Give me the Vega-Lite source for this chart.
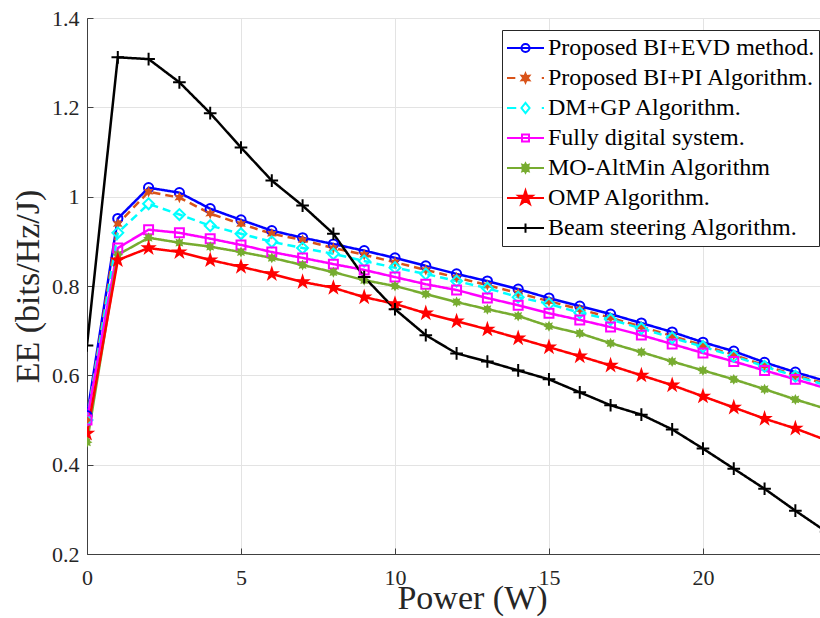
{
  "$schema": "https://vega.github.io/schema/vega-lite/v6.json",
  "width": 733,
  "height": 536,
  "autosize": {"type": "none"},
  "padding": {"left": 87, "top": 18, "right": 0, "bottom": 64},
  "background": "white",
  "config": {
    "font": "Liberation Serif",
    "view": {"stroke": "#404040", "strokeWidth": 1},
    "axis": {
      "labelFont": "Liberation Serif",
      "titleFont": "Liberation Serif",
      "labelFontSize": 22,
      "titleFontSize": 34,
      "titleFontWeight": "normal",
      "labelColor": "#262626",
      "titleColor": "#262626",
      "gridColor": "#e3e3e3",
      "gridWidth": 1,
      "domainColor": "#404040",
      "tickColor": "#404040",
      "tickSize": -6,
      "domainWidth": 1
    }
  },
  "data": {"values": [
    {"series":"Proposed BI+EVD method.","power":0,"ee":0.51},
    {"series":"Proposed BI+EVD method.","power":1,"ee":0.951},
    {"series":"Proposed BI+EVD method.","power":2,"ee":1.020},
    {"series":"Proposed BI+EVD method.","power":3,"ee":1.009},
    {"series":"Proposed BI+EVD method.","power":4,"ee":0.973},
    {"series":"Proposed BI+EVD method.","power":5,"ee":0.948},
    {"series":"Proposed BI+EVD method.","power":6,"ee":0.924},
    {"series":"Proposed BI+EVD method.","power":7,"ee":0.908},
    {"series":"Proposed BI+EVD method.","power":8,"ee":0.894},
    {"series":"Proposed BI+EVD method.","power":9,"ee":0.879},
    {"series":"Proposed BI+EVD method.","power":10,"ee":0.863},
    {"series":"Proposed BI+EVD method.","power":11,"ee":0.845},
    {"series":"Proposed BI+EVD method.","power":12,"ee":0.827},
    {"series":"Proposed BI+EVD method.","power":13,"ee":0.811},
    {"series":"Proposed BI+EVD method.","power":14,"ee":0.793},
    {"series":"Proposed BI+EVD method.","power":15,"ee":0.773},
    {"series":"Proposed BI+EVD method.","power":16,"ee":0.755},
    {"series":"Proposed BI+EVD method.","power":17,"ee":0.737},
    {"series":"Proposed BI+EVD method.","power":18,"ee":0.717},
    {"series":"Proposed BI+EVD method.","power":19,"ee":0.697},
    {"series":"Proposed BI+EVD method.","power":20,"ee":0.674},
    {"series":"Proposed BI+EVD method.","power":21,"ee":0.654},
    {"series":"Proposed BI+EVD method.","power":22,"ee":0.629},
    {"series":"Proposed BI+EVD method.","power":23,"ee":0.607},
    {"series":"Proposed BI+EVD method.","power":24,"ee":0.587},
    {"series":"Proposed BI+PI Algorithm.","power":0,"ee":0.50},
    {"series":"Proposed BI+PI Algorithm.","power":1,"ee":0.939},
    {"series":"Proposed BI+PI Algorithm.","power":2,"ee":1.011},
    {"series":"Proposed BI+PI Algorithm.","power":3,"ee":0.998},
    {"series":"Proposed BI+PI Algorithm.","power":4,"ee":0.962},
    {"series":"Proposed BI+PI Algorithm.","power":5,"ee":0.939},
    {"series":"Proposed BI+PI Algorithm.","power":6,"ee":0.917},
    {"series":"Proposed BI+PI Algorithm.","power":7,"ee":0.903},
    {"series":"Proposed BI+PI Algorithm.","power":8,"ee":0.885},
    {"series":"Proposed BI+PI Algorithm.","power":9,"ee":0.870},
    {"series":"Proposed BI+PI Algorithm.","power":10,"ee":0.853},
    {"series":"Proposed BI+PI Algorithm.","power":11,"ee":0.836},
    {"series":"Proposed BI+PI Algorithm.","power":12,"ee":0.819},
    {"series":"Proposed BI+PI Algorithm.","power":13,"ee":0.802},
    {"series":"Proposed BI+PI Algorithm.","power":14,"ee":0.784},
    {"series":"Proposed BI+PI Algorithm.","power":15,"ee":0.766},
    {"series":"Proposed BI+PI Algorithm.","power":16,"ee":0.748},
    {"series":"Proposed BI+PI Algorithm.","power":17,"ee":0.729},
    {"series":"Proposed BI+PI Algorithm.","power":18,"ee":0.709},
    {"series":"Proposed BI+PI Algorithm.","power":19,"ee":0.688},
    {"series":"Proposed BI+PI Algorithm.","power":20,"ee":0.667},
    {"series":"Proposed BI+PI Algorithm.","power":21,"ee":0.646},
    {"series":"Proposed BI+PI Algorithm.","power":22,"ee":0.622},
    {"series":"Proposed BI+PI Algorithm.","power":23,"ee":0.600},
    {"series":"Proposed BI+PI Algorithm.","power":24,"ee":0.581},
    {"series":"DM+GP Algorithm.","power":0,"ee":0.50},
    {"series":"DM+GP Algorithm.","power":1,"ee":0.919},
    {"series":"DM+GP Algorithm.","power":2,"ee":0.984},
    {"series":"DM+GP Algorithm.","power":3,"ee":0.960},
    {"series":"DM+GP Algorithm.","power":4,"ee":0.935},
    {"series":"DM+GP Algorithm.","power":5,"ee":0.917},
    {"series":"DM+GP Algorithm.","power":6,"ee":0.899},
    {"series":"DM+GP Algorithm.","power":7,"ee":0.885},
    {"series":"DM+GP Algorithm.","power":8,"ee":0.872},
    {"series":"DM+GP Algorithm.","power":9,"ee":0.856},
    {"series":"DM+GP Algorithm.","power":10,"ee":0.841},
    {"series":"DM+GP Algorithm.","power":11,"ee":0.827},
    {"series":"DM+GP Algorithm.","power":12,"ee":0.811},
    {"series":"DM+GP Algorithm.","power":13,"ee":0.795},
    {"series":"DM+GP Algorithm.","power":14,"ee":0.775},
    {"series":"DM+GP Algorithm.","power":15,"ee":0.760},
    {"series":"DM+GP Algorithm.","power":16,"ee":0.740},
    {"series":"DM+GP Algorithm.","power":17,"ee":0.725},
    {"series":"DM+GP Algorithm.","power":18,"ee":0.705},
    {"series":"DM+GP Algorithm.","power":19,"ee":0.684},
    {"series":"DM+GP Algorithm.","power":20,"ee":0.664},
    {"series":"DM+GP Algorithm.","power":21,"ee":0.643},
    {"series":"DM+GP Algorithm.","power":22,"ee":0.620},
    {"series":"DM+GP Algorithm.","power":23,"ee":0.598},
    {"series":"DM+GP Algorithm.","power":24,"ee":0.578},
    {"series":"Fully digital system.","power":0,"ee":0.50},
    {"series":"Fully digital system.","power":1,"ee":0.885},
    {"series":"Fully digital system.","power":2,"ee":0.926},
    {"series":"Fully digital system.","power":3,"ee":0.919},
    {"series":"Fully digital system.","power":4,"ee":0.906},
    {"series":"Fully digital system.","power":5,"ee":0.892},
    {"series":"Fully digital system.","power":6,"ee":0.876},
    {"series":"Fully digital system.","power":7,"ee":0.863},
    {"series":"Fully digital system.","power":8,"ee":0.849},
    {"series":"Fully digital system.","power":9,"ee":0.836},
    {"series":"Fully digital system.","power":10,"ee":0.820},
    {"series":"Fully digital system.","power":11,"ee":0.804},
    {"series":"Fully digital system.","power":12,"ee":0.791},
    {"series":"Fully digital system.","power":13,"ee":0.773},
    {"series":"Fully digital system.","power":14,"ee":0.757},
    {"series":"Fully digital system.","power":15,"ee":0.739},
    {"series":"Fully digital system.","power":16,"ee":0.724},
    {"series":"Fully digital system.","power":17,"ee":0.708},
    {"series":"Fully digital system.","power":18,"ee":0.690},
    {"series":"Fully digital system.","power":19,"ee":0.670},
    {"series":"Fully digital system.","power":20,"ee":0.650},
    {"series":"Fully digital system.","power":21,"ee":0.631},
    {"series":"Fully digital system.","power":22,"ee":0.611},
    {"series":"Fully digital system.","power":23,"ee":0.591},
    {"series":"Fully digital system.","power":24,"ee":0.571},
    {"series":"MO-AltMin Algorithm","power":0,"ee":0.45},
    {"series":"MO-AltMin Algorithm","power":1,"ee":0.870},
    {"series":"MO-AltMin Algorithm","power":2,"ee":0.908},
    {"series":"MO-AltMin Algorithm","power":3,"ee":0.897},
    {"series":"MO-AltMin Algorithm","power":4,"ee":0.888},
    {"series":"MO-AltMin Algorithm","power":5,"ee":0.876},
    {"series":"MO-AltMin Algorithm","power":6,"ee":0.863},
    {"series":"MO-AltMin Algorithm","power":7,"ee":0.847},
    {"series":"MO-AltMin Algorithm","power":8,"ee":0.831},
    {"series":"MO-AltMin Algorithm","power":9,"ee":0.813},
    {"series":"MO-AltMin Algorithm","power":10,"ee":0.800},
    {"series":"MO-AltMin Algorithm","power":11,"ee":0.782},
    {"series":"MO-AltMin Algorithm","power":12,"ee":0.764},
    {"series":"MO-AltMin Algorithm","power":13,"ee":0.748},
    {"series":"MO-AltMin Algorithm","power":14,"ee":0.733},
    {"series":"MO-AltMin Algorithm","power":15,"ee":0.710},
    {"series":"MO-AltMin Algorithm","power":16,"ee":0.694},
    {"series":"MO-AltMin Algorithm","power":17,"ee":0.672},
    {"series":"MO-AltMin Algorithm","power":18,"ee":0.652},
    {"series":"MO-AltMin Algorithm","power":19,"ee":0.631},
    {"series":"MO-AltMin Algorithm","power":20,"ee":0.611},
    {"series":"MO-AltMin Algorithm","power":21,"ee":0.591},
    {"series":"MO-AltMin Algorithm","power":22,"ee":0.569},
    {"series":"MO-AltMin Algorithm","power":23,"ee":0.546},
    {"series":"MO-AltMin Algorithm","power":24,"ee":0.525},
    {"series":"OMP Algorithm.","power":0,"ee":0.47},
    {"series":"OMP Algorithm.","power":1,"ee":0.858},
    {"series":"OMP Algorithm.","power":2,"ee":0.885},
    {"series":"OMP Algorithm.","power":3,"ee":0.876},
    {"series":"OMP Algorithm.","power":4,"ee":0.858},
    {"series":"OMP Algorithm.","power":5,"ee":0.843},
    {"series":"OMP Algorithm.","power":6,"ee":0.827},
    {"series":"OMP Algorithm.","power":7,"ee":0.809},
    {"series":"OMP Algorithm.","power":8,"ee":0.796},
    {"series":"OMP Algorithm.","power":9,"ee":0.775},
    {"series":"OMP Algorithm.","power":10,"ee":0.760},
    {"series":"OMP Algorithm.","power":11,"ee":0.739},
    {"series":"OMP Algorithm.","power":12,"ee":0.721},
    {"series":"OMP Algorithm.","power":13,"ee":0.703},
    {"series":"OMP Algorithm.","power":14,"ee":0.683},
    {"series":"OMP Algorithm.","power":15,"ee":0.663},
    {"series":"OMP Algorithm.","power":16,"ee":0.643},
    {"series":"OMP Algorithm.","power":17,"ee":0.622},
    {"series":"OMP Algorithm.","power":18,"ee":0.600},
    {"series":"OMP Algorithm.","power":19,"ee":0.578},
    {"series":"OMP Algorithm.","power":20,"ee":0.553},
    {"series":"OMP Algorithm.","power":21,"ee":0.528},
    {"series":"OMP Algorithm.","power":22,"ee":0.503},
    {"series":"OMP Algorithm.","power":23,"ee":0.481},
    {"series":"OMP Algorithm.","power":24,"ee":0.455},
    {"series":"Beam steering Algorithm.","power":0,"ee":0.667},
    {"series":"Beam steering Algorithm.","power":1,"ee":1.312},
    {"series":"Beam steering Algorithm.","power":2,"ee":1.308},
    {"series":"Beam steering Algorithm.","power":3,"ee":1.256},
    {"series":"Beam steering Algorithm.","power":4,"ee":1.187},
    {"series":"Beam steering Algorithm.","power":5,"ee":1.110},
    {"series":"Beam steering Algorithm.","power":6,"ee":1.036},
    {"series":"Beam steering Algorithm.","power":7,"ee":0.980},
    {"series":"Beam steering Algorithm.","power":8,"ee":0.917},
    {"series":"Beam steering Algorithm.","power":9,"ee":0.820},
    {"series":"Beam steering Algorithm.","power":10,"ee":0.748},
    {"series":"Beam steering Algorithm.","power":11,"ee":0.690},
    {"series":"Beam steering Algorithm.","power":12,"ee":0.649},
    {"series":"Beam steering Algorithm.","power":13,"ee":0.631},
    {"series":"Beam steering Algorithm.","power":14,"ee":0.611},
    {"series":"Beam steering Algorithm.","power":15,"ee":0.591},
    {"series":"Beam steering Algorithm.","power":16,"ee":0.562},
    {"series":"Beam steering Algorithm.","power":17,"ee":0.533},
    {"series":"Beam steering Algorithm.","power":18,"ee":0.512},
    {"series":"Beam steering Algorithm.","power":19,"ee":0.479},
    {"series":"Beam steering Algorithm.","power":20,"ee":0.436},
    {"series":"Beam steering Algorithm.","power":21,"ee":0.391},
    {"series":"Beam steering Algorithm.","power":22,"ee":0.346},
    {"series":"Beam steering Algorithm.","power":23,"ee":0.297},
    {"series":"Beam steering Algorithm.","power":24,"ee":0.250}
  ]},
  "encoding": {
    "x": {
      "field": "power", "type": "quantitative",
      "scale": {"domain": [0, 23.8], "nice": false, "zero": false},
      "axis": {
        "values": [0, 5, 10, 15, 20], "title": "Power (W)", "grid": true,
        "labelPadding": 19, "titleX": 385, "titleY": 54, "titleBaseline": "alphabetic",
        "labelFlush": false
      }
    },
    "y": {
      "field": "ee", "type": "quantitative",
      "scale": {"domain": [0.2, 1.4], "nice": false, "zero": false},
      "axis": {
        "values": [0.2, 0.4, 0.6, 0.8, 1, 1.2, 1.4], "format": ".1~f", "title": "EE (bits/Hz/J)", "grid": true,
        "labelPadding": 14, "titleX": -59, "titleY": 268, "titleBaseline": "middle", "titleAngle": 270,
        "labelFlush": false
      }
    }
  },
  "layer": [
    {
      "mark": {"type": "line", "strokeWidth": 2.5, "clip": true},
      "encoding": {
        "color": {"field": "series", "type": "nominal", "legend": null,
          "scale": {"domain": ["Proposed BI+EVD method.", "Proposed BI+PI Algorithm.", "DM+GP Algorithm.", "Fully digital system.", "MO-AltMin Algorithm", "OMP Algorithm.", "Beam steering Algorithm."],
                    "range": ["#0000ff", "#d95319", "#00ffff", "#ff00ff", "#77ac30", "#ff0000", "#000000"]}},
        "strokeDash": {"field": "series", "type": "nominal", "legend": null,
          "scale": {"domain": ["Proposed BI+EVD method.", "Proposed BI+PI Algorithm.", "DM+GP Algorithm.", "Fully digital system.", "MO-AltMin Algorithm", "OMP Algorithm.", "Beam steering Algorithm."],
                    "range": [[1, 0], [8, 5], [8, 5], [1, 0], [1, 0], [1, 0], [1, 0]]}}
      }
    },
    {
      "transform": [{"filter": {"field": "series", "equal": "Proposed BI+EVD method."}}],
      "mark": {"type": "point", "shape": "circle", "size": 85, "filled": false, "strokeWidth": 2, "color": "#0000ff", "opacity": 1, "clip": true}
    },
    {
      "transform": [{"filter": {"field": "series", "equal": "Proposed BI+PI Algorithm."}}],
      "mark": {"type": "point", "shape": "M0,-1L0.25,-0.433L0.866,-0.5L0.5,0L0.866,0.5L0.25,0.433L0,1L-0.25,0.433L-0.866,0.5L-0.5,0L-0.866,-0.5L-0.25,-0.433Z", "size": 130, "filled": true, "color": "#d95319", "opacity": 1, "clip": true}
    },
    {
      "transform": [{"filter": {"field": "series", "equal": "DM+GP Algorithm."}}],
      "mark": {"type": "point", "shape": "diamond", "size": 120, "filled": false, "strokeWidth": 2, "color": "#00ffff", "opacity": 1, "clip": true}
    },
    {
      "transform": [{"filter": {"field": "series", "equal": "Fully digital system."}}],
      "mark": {"type": "point", "shape": "square", "size": 80, "filled": false, "strokeWidth": 2, "color": "#ff00ff", "opacity": 1, "clip": true}
    },
    {
      "transform": [{"filter": {"field": "series", "equal": "MO-AltMin Algorithm"}}],
      "mark": {"type": "point", "shape": "M0,-1L0.23,-0.554L0.707,-0.707L0.554,-0.23L1,0L0.554,0.23L0.707,0.707L0.23,0.554L0,1L-0.23,0.554L-0.707,0.707L-0.554,0.23L-1,0L-0.554,-0.23L-0.707,-0.707L-0.23,-0.554Z", "size": 120, "filled": true, "color": "#77ac30", "opacity": 1, "clip": true}
    },
    {
      "transform": [{"filter": {"field": "series", "equal": "OMP Algorithm."}}],
      "mark": {"type": "point", "shape": "M0,-1L0.225,-0.309L0.951,-0.309L0.363,0.118L0.588,0.809L0,0.382L-0.588,0.809L-0.363,0.118L-0.951,-0.309L-0.225,-0.309Z", "size": 300, "filled": true, "color": "#ff0000", "opacity": 1, "clip": true}
    },
    {
      "transform": [{"filter": {"field": "series", "equal": "Beam steering Algorithm."}}],
      "mark": {"type": "point", "shape": "M-1,0H1M0,-1V1", "size": 160, "filled": false, "strokeWidth": 2, "color": "#000000", "opacity": 1, "clip": true}
    },
    {
      "mark": {"type": "point", "filled": false, "strokeWidth": 2},
      "encoding": {
        "opacity": {"value": 0},
        "color": {"field": "series", "type": "nominal",
          "scale": {"domain": ["Proposed BI+EVD method.", "Proposed BI+PI Algorithm.", "DM+GP Algorithm.", "Fully digital system.", "MO-AltMin Algorithm", "OMP Algorithm.", "Beam steering Algorithm."],
                    "range": ["#0000ff", "#d95319", "#00ffff", "#ff00ff", "#77ac30", "#ff0000", "#000000"]},
          "legend": {
            "orient": "none", "legendX": 415, "legendY": 12, "title": null,
            "padding": 4, "strokeColor": "#262626", "fillColor": "white",
            "symbolSize": 1369, "clipHeight": 28, "rowPadding": 2, "labelOffset": 3,
            "labelFont": "Liberation Serif", "labelFontSize": 24, "labelColor": "#000000", "labelLimit": 400,
            "symbolOpacity": 1, "symbolStrokeWidth": 2,
            "encode": {"symbols": {"update": {"fill": {"signal": "datum.value === 'Proposed BI+PI Algorithm.' ? '#d95319' : datum.value === 'MO-AltMin Algorithm' ? '#77ac30' : datum.value === 'OMP Algorithm.' ? '#ff0000' : 'transparent'"}}}}
          }},
        "shape": {"field": "series", "type": "nominal",
          "scale": {"domain": ["Proposed BI+EVD method.", "Proposed BI+PI Algorithm.", "DM+GP Algorithm.", "Fully digital system.", "MO-AltMin Algorithm", "OMP Algorithm.", "Beam steering Algorithm."],
                    "range": [
                      "M-1,0H1M-0.22,0A0.22,0.22 0 1,0 0.22,0A0.22,0.22 0 1,0 -0.22,0",
                      "M-1,0H-0.55M0.88,0H1M0,-0.24L0.06,-0.104L0.208,-0.12L0.12,0L0.208,0.12L0.06,0.104L0,0.24L-0.06,0.104L-0.208,0.12L-0.12,0L-0.208,-0.12L-0.06,-0.104ZM0,-0.12L0.104,0.06L-0.104,0.06ZM0,0.12L0.104,-0.06L-0.104,-0.06Z",
                      "M-1,0H-0.5M0.88,0H1M0,-0.28L0.22,0L0,0.28L-0.22,0Z",
                      "M-1,0H1M-0.19,-0.19H0.19V0.19H-0.19Z",
                      "M-1,0H1M0,-0.24L0.055,-0.133L0.17,-0.17L0.133,-0.055L0.24,0L0.133,0.055L0.17,0.17L0.055,0.133L0,0.24L-0.055,0.133L-0.17,0.17L-0.133,0.055L-0.24,0L-0.133,-0.055L-0.17,-0.17L-0.055,-0.133ZM-0.1,-0.1H0.1V0.1H-0.1Z",
                      "M-1,0H1M0,-0.4L0.09,-0.124L0.38,-0.124L0.145,0.047L0.235,0.324L0,0.153L-0.235,0.324L-0.145,0.047L-0.38,-0.124L-0.09,-0.124ZM0,-0.2L0.045,-0.062L0.19,-0.062L0.072,0.024L0.117,0.162L0,0.076L-0.117,0.162L-0.072,0.024L-0.19,-0.062L-0.045,-0.062ZM0,-0.06L0.05,0.04L-0.05,0.04Z",
                      "M-1,0H1M0,-0.25V0.25"
                    ]},
          "legend": {
            "orient": "none", "legendX": 415, "legendY": 12, "title": null,
            "encode": {"symbols": {"update": {"fill": {"signal": "datum.value === 'Proposed BI+PI Algorithm.' ? '#d95319' : datum.value === 'MO-AltMin Algorithm' ? '#77ac30' : datum.value === 'OMP Algorithm.' ? '#ff0000' : 'transparent'"}}}}
          }}
      }
    }
  ],
  "resolve": {"scale": {"color": "independent", "shape": "independent"}}
}
